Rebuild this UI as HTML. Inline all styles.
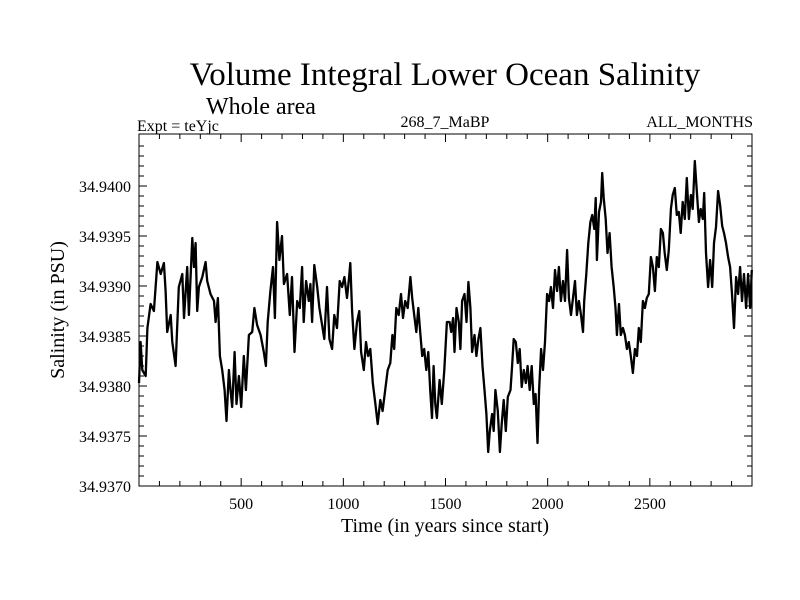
<!DOCTYPE html>
<html><head><meta charset="utf-8"><style>
body{margin:0;background:#fff;}
svg{display:block;font-family:"Liberation Serif",serif;}
</style></head><body>
<svg width="800" height="600" viewBox="0 0 800 600">
<text x="445" y="85" font-size="33" text-anchor="middle">Volume Integral Lower Ocean Salinity</text>
<text x="206" y="114" font-size="24">Whole area</text>
<text x="137" y="131" font-size="16">Expt = teYjc</text>
<text x="445" y="127" font-size="16" text-anchor="middle">268_7_MaBP</text>
<text x="753" y="127" font-size="16" text-anchor="end">ALL_MONTHS</text>
<text x="445" y="532" font-size="20" text-anchor="middle">Time (in years since start)</text>
<text transform="translate(64,310) rotate(-90)" font-size="20" text-anchor="middle">Salinity (in PSU)</text>
<g id="axes"></g>
<path id="line" fill="none" stroke="#000" stroke-width="2.3" stroke-linejoin="round"></path>
<rect x="139" y="134" width="613" height="352" fill="none" stroke="#000" stroke-width="1"></rect>
</svg>
<script>
const years = [0,8,16,33,41,57,73,90,106,122,130,138,155,163,179,195,212,220,236,244,261,269,277,285,293,310,326,334,350,367,375,386,396,407,419,428,440,448,456,468,477,489,500,513,523,538,554,565,578,595,611,621,630,643,656,665,676,687,700,709,725,738,749,761,774,787,798,806,818,831,839,847,858,872,883,896,907,920,932,945,956,969,982,994,1005,1018,1028,1034,1043,1054,1067,1078,1087,1100,1111,1121,1132,1144,1157,1168,1181,1192,1205,1217,1230,1240,1249,1259,1271,1282,1292,1303,1315,1328,1337,1347,1357,1367,1376,1386,1396,1406,1416,1425,1434,1442,1450,1458,1471,1482,1494,1507,1520,1528,1537,1544,1554,1565,1573,1581,1593,1603,1612,1622,1630,1642,1651,1661,1671,1681,1691,1700,1709,1717,1728,1736,1744,1756,1766,1775,1785,1795,1805,1818,1826,1834,1844,1854,1863,1873,1883,1893,1902,1912,1922,1932,1941,1950,1958,1968,1977,1987,1997,2007,2016,2026,2036,2046,2055,2065,2075,2085,2095,2104,2114,2124,2134,2143,2153,2163,2173,2179,2189,2199,2209,2218,2228,2235,2241,2251,2261,2267,2274,2284,2293,2303,2313,2323,2332,2339,2349,2358,2368,2378,2388,2397,2407,2417,2427,2437,2446,2456,2466,2476,2485,2495,2505,2515,2525,2534,2544,2554,2564,2573,2583,2593,2603,2612,2622,2632,2642,2651,2661,2671,2681,2691,2701,2710,2720,2730,2740,2749,2759,2766,2775,2785,2795,2805,2814,2824,2834,2844,2854,2863,2873,2883,2893,2902,2912,2922,2932,2942,2951,2961,2971,2981,2991,2999];
// salinity in units of 1e-4 PSU above 34.9370
const salinityOffset = [10.3,14.4,11.6,11,15.8,18.2,17.5,22.4,21.2,22.3,19.5,15.4,17.1,14.4,12,19.9,21.2,16.8,21.9,17.1,24.8,21.9,24.3,17.5,19.9,20.9,22.4,20.5,19.2,18.5,16.4,18.8,13,11.6,9.6,6.5,11.6,9.6,7.9,13.4,8.2,11,7.9,13,9.6,15.1,15.4,17.8,16.1,15.1,13.4,12,16.4,19.5,21.9,16.8,26.4,22.6,25,20.2,21.2,17.1,20.9,13.4,18.5,17.8,21.9,16.4,20.5,18.5,20.2,16.4,22.1,19.9,17.8,16.1,14.7,19.9,14.7,13.7,17.1,15.8,20.5,19.9,20.9,18.8,20.9,22.3,17.5,13.7,16.4,17.5,13.4,11.6,14.4,13,13.7,10.3,8.2,6.2,8.6,7.5,9.6,11.6,12.3,15.1,13.7,17.8,17.1,19.2,16.8,18.5,17.8,20.9,18.8,17.1,15.4,17.8,15.4,13,13.7,11.6,13.4,9.6,6.8,12,8.2,6.8,10.6,8.2,11.6,16.4,16.4,15.4,16.8,13.4,17.8,16.4,13.7,18.5,19.2,16.4,20.4,17.8,13.4,15.1,13,14.7,15.8,12,9.6,7.2,3.4,5.5,7.2,5.5,9.6,7.5,3.4,6.2,8.6,5.5,8.9,9.6,12,14.7,14.4,12.3,13.7,9.9,11.6,10.3,12,9.6,12,8.2,9.2,4.3,9.6,13.7,11.6,14.4,19.2,18.5,19.9,17.8,21.6,19.5,21.9,18.5,20.5,18.5,23.6,18.8,17.1,18.8,20.5,17.1,18.5,17.1,15.4,18.5,21.2,24.3,26.4,27.1,25.7,28.8,22.6,27.4,28.4,31.3,28.8,26.7,23.3,25.3,21.9,19.9,17.8,15.1,18.2,15.1,15.8,15.1,13.7,14.4,13,11.3,13.7,13,15.8,14.4,18.5,17.8,18.8,19.2,22.9,21.9,19.5,22.9,21.9,25.7,25.3,23.3,21.6,23.6,27.7,29.1,29.8,27.1,27.4,25.3,28.4,26.7,30.8,26.7,29.1,27.7,32.5,29.5,26.4,27.7,26.7,29.3,23.3,19.9,22.6,19.9,24.3,25.9,29.5,28.1,26,25.3,24.3,22.9,21.9,19.2,15.8,20.9,19.2,21.9,18.5,21.2,17.8,21.2,17.8,21.6];
const yTickValues = [34.9370,34.9375,34.9380,34.9385,34.9390,34.9395,34.9400];
const yTickLabels = ["34.9370","34.9375","34.9380","34.9385","34.9390","34.9395","34.9400"];
const xTickValues = [500,1000,1500,2000,2500];
const xTickLabels = ["500","1000","1500","2000","2500"];

const L=139,R=752,T=134,B=486;
const X0=0,X1=3000,Y0=34.9370,Y1=34.94052;
const sx=v=>L+(v-X0)/(X1-X0)*(R-L);
const sy=v=>B-(v-Y0)/(Y1-Y0)*(B-T);
const NS="http://www.w3.org/2000/svg";
const axes=document.getElementById('axes');
function ln(x1,y1,x2,y2){const e=document.createElementNS(NS,'line');e.setAttribute('x1',x1);e.setAttribute('y1',y1);e.setAttribute('x2',x2);e.setAttribute('y2',y2);e.setAttribute('stroke','#000');e.setAttribute('stroke-width','1');


axes.appendChild(e);}
for(let yr=100;yr<3000;yr+=100){const x=sx(yr);const len=yr%500===0?8:5;ln(x,B,x,B-len);ln(x,T,x,T+len);}
for(let k=1;k<35;k++){const y=sy(Y0+k*0.0001);const len=k%5===0?8:5;ln(L,y,L+len,y);ln(R,y,R-len,y);}
yTickValues.forEach((v,i)=>{const t=document.createElementNS(NS,'text');t.setAttribute('x',L-8);t.setAttribute('y',sy(v)+6);t.setAttribute('font-size','16');t.setAttribute('text-anchor','end');t.textContent=yTickLabels[i];


axes.appendChild(t);});
xTickValues.forEach((v,i)=>{const t=document.createElementNS(NS,'text');t.setAttribute('x',sx(v));t.setAttribute('y',B+23);t.setAttribute('font-size','16');t.setAttribute('text-anchor','middle');t.textContent=xTickLabels[i];


axes.appendChild(t);});
let d='';
years.forEach((yr,i)=>{d+=(i?'L':'M')+sx(yr).toFixed(1)+','+sy(Y0+salinityOffset[i]*0.0001).toFixed(1);});
document.getElementById('line').setAttribute('d',d);
</script>
</body></html>
